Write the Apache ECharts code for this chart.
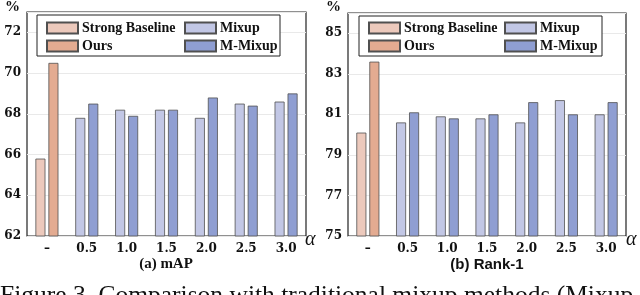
<!DOCTYPE html>
<html>
<head>
<meta charset="utf-8">
<script src="https://cdn.jsdelivr.net/npm/echarts@6/dist/echarts.min.js"></script>
<style>html,body{margin:0;padding:0;background:#fff;}#c{width:640px;height:295px;}</style>
</head>
<body>
<div id="c"></div>
<script>
// ---- data ----
var categories = ['\u2013', '0.5', '1.0', '1.5', '2.0', '2.5', '3.0'];
// (a) mAP
var mapBaseline = [65.8, null, null, null, null, null, null];
var mapOurs     = [70.5, null, null, null, null, null, null];
var mapMixup    = [null, 67.8, 68.2, 68.2, 67.8, 68.5, 68.6];
var mapMMixup   = [null, 68.5, 67.9, 68.2, 68.8, 68.4, 69.0];
// (b) Rank-1
var r1Baseline = [80.1, null, null, null, null, null, null];
var r1Ours     = [83.6, null, null, null, null, null, null];
var r1Mixup    = [null, 80.6, 80.9, 80.8, 80.6, 81.7, 81.0];
var r1MMixup   = [null, 81.1, 80.8, 81.0, 81.6, 81.0, 81.6];
var mapTicks = [62, 64, 66, 68, 70, 72];
var r1Ticks  = [75, 77, 79, 81, 83, 85];
var seriesNames = ['Strong Baseline', 'Ours', 'Mixup', 'M-Mixup'];
var titleA = '(a) mAP';
var titleB = '(b) Rank-1';
var caption = 'Figure 3. Comparison with traditional mixup methods (Mixup and M-Mixup).';

// ---- styles ----
var colors = {'Strong Baseline': '#ecc9bc', 'Ours': '#e3ab91', 'Mixup': '#c2c7e5', 'M-Mixup': '#8f9ed2'};
var SERIF = '"Liberation Serif", "Times New Roman", serif';
var WSERIF = '"DejaVu Serif", serif';
var SANS = '"Liberation Sans", Arial, sans-serif';

function bar(name, data, idx, stack) {
  return {
    type: 'bar', name: name, data: data, xAxisIndex: idx, yAxisIndex: idx,
    stack: stack + idx, barWidth: 10, barGap: '30%', clip: true,
    itemStyle: {color: colors[name], borderColor: '#505050', borderWidth: 0.8},
    emphasis: {disabled: true}
  };
}
function yAxis(idx, ticks) {
  return {
    type: 'value', gridIndex: idx, min: ticks[0], max: ticks[ticks.length - 1] + 1, interval: 2,
    axisLine: {show: false}, axisTick: {show: false},
    axisLabel: {showMaxLabel: false, margin: 6, fontFamily: WSERIF, fontWeight: 'bold', fontSize: 12, color: '#111'},
    splitLine: {lineStyle: {color: '#e9e9e9', width: 1}}
  };
}
function xAxis(idx) {
  return {
    type: 'category', gridIndex: idx, data: categories,
    axisLine: {show: false}, axisTick: {show: false},
    axisLabel: {margin: 7, fontFamily: WSERIF, fontWeight: 'bold', fontSize: 12, color: '#111'}
  };
}
function legend(names, left) {
  return {
    data: names, orient: 'vertical', left: left, top: 21, padding: 0, itemGap: 4,
    itemWidth: 31, itemHeight: 11, icon: 'rect', selectedMode: false,
    textStyle: {fontFamily: SERIF, fontWeight: 'bold', fontSize: 14, color: '#111', lineHeight: 14, padding: [0, 0, 0, -1]}
  };
}
var gridBase = {show: true, borderColor: '#222', borderWidth: 1.2, backgroundColor: '#fff'};

var chart = echarts.init(document.getElementById('c'), null, {renderer: 'canvas'});
chart.setOption({
  animation: false,
  backgroundColor: '#fff',
  grid: [
    Object.assign({left: 27, right: 334, top: 12, bottom: 59}, gridBase),
    Object.assign({left: 348, right: 14, top: 13, bottom: 59}, gridBase)
  ],
  xAxis: [xAxis(0), xAxis(1)],
  yAxis: [yAxis(0, mapTicks), yAxis(1, r1Ticks)],
  legend: [
    legend([seriesNames[0], seriesNames[1]], 46),
    legend([seriesNames[2], seriesNames[3]], 184),
    legend([seriesNames[0], seriesNames[1]], 368),
    legend([seriesNames[2], seriesNames[3]], 504)
  ],
  series: [
    bar(seriesNames[0], mapBaseline, 0, 'a'),
    bar(seriesNames[1], mapOurs, 0, 'b'),
    bar(seriesNames[2], mapMixup, 0, 'a'),
    bar(seriesNames[3], mapMMixup, 0, 'b'),
    bar(seriesNames[0], r1Baseline, 1, 'a'),
    bar(seriesNames[1], r1Ours, 1, 'b'),
    bar(seriesNames[2], r1Mixup, 1, 'a'),
    bar(seriesNames[3], r1MMixup, 1, 'b')
  ],
  graphic: [
    {type: 'rect', z: 3, shape: {x: 37, y: 15, width: 243, height: 41}, style: {fill: '#fff', stroke: '#222', lineWidth: 1}},
    {type: 'rect', z: 3, shape: {x: 359, y: 16, width: 243, height: 40}, style: {fill: '#fff', stroke: '#222', lineWidth: 1}},
    {type: 'text', z: 5, left: 5, top: 0, style: {text: '%', font: 'bold 15px ' + SERIF, fill: '#111'}},
    {type: 'text', z: 5, left: 326, top: 0, style: {text: '%', font: 'bold 15px ' + SERIF, fill: '#111'}},
    {type: 'text', z: 5, left: 305, top: 230, style: {text: '\u03b1', font: 'italic 20px ' + SERIF, fill: '#111'}},
    {type: 'text', z: 5, left: 626, top: 230, style: {text: '\u03b1', font: 'italic 20px ' + SERIF, fill: '#111'}},
    {type: 'text', z: 5, x: 166, y: 257, style: {text: titleA, font: 'bold 15px ' + SERIF, fill: '#111', textAlign: 'center'}},
    {type: 'text', z: 5, x: 487, y: 257, style: {text: titleB, font: 'bold 15px ' + SANS, fill: '#111', textAlign: 'center'}},
    {type: 'text', z: 5, x: 0, y: 283, style: {text: caption, font: '25.5px ' + SERIF, fill: '#111'}}
  ]
});
</script>
</body>
</html>
